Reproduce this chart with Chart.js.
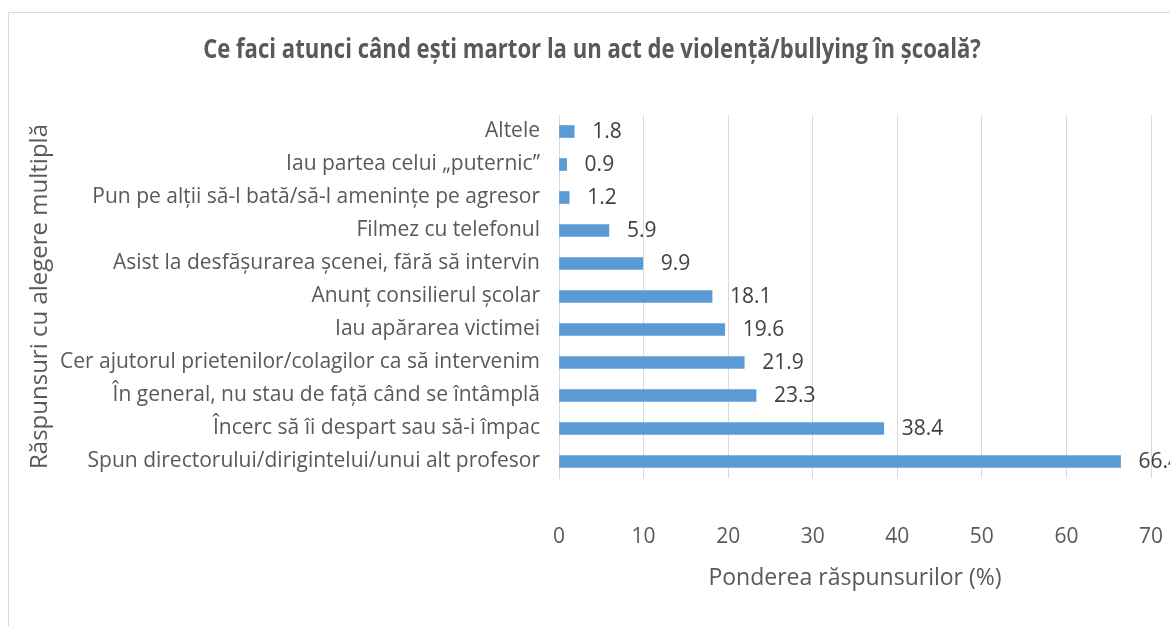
<!DOCTYPE html>
<html>
<head>
<meta charset="utf-8">
<script src="https://cdn.jsdelivr.net/npm/chart.js@4.4.1/dist/chart.umd.min.js"></script>
<style>
    html, body { margin: 0; padding: 0; background: #fff; overflow: hidden; }
    #cadru {
        position: absolute; left: 8px; top: 12px; width: 1170px; height: 620px;
        border-left: 1px solid #d9d9d9; border-top: 1px solid #d9d9d9;
    }
    #cadru canvas { position: absolute; left: 0; top: 0; }
</style>
</head>
<body>
<div id="cadru"><canvas id="grafic" width="1166" height="614"></canvas></div>
<script>
// ——— Date ——————————————————————————————————————
const titlu = "Ce faci atunci când ești martor la un act de violență/bullying în școală?";
const categorii = [
    "Altele",
    "Iau partea celui „puternic”",
    "Pun pe alții să-l bată/să-l amenințe pe agresor",
    "Filmez cu telefonul",
    "Asist la desfășurarea șcenei, fără să intervin",
    "Anunț consilierul școlar",
    "Iau apărarea victimei",
    "Cer ajutorul prietenilor/colagilor ca să intervenim",
    "În general, nu stau de față când se întâmplă",
    "Încerc să îi despart sau să-i împac",
    "Spun directorului/dirigintelui/unui alt profesor",
];
const ponderi = [1.8, 0.9, 1.2, 5.9, 9.9, 18.1, 19.6, 21.9, 23.3, 38.4, 66.4];
const ticksX = [0, 10, 20, 30, 40, 50, 60, 70];

const FONT = "'Open Sans', sans-serif";

// titlul, cu literă mai îngustă (ca în Excel)
const titluIngust = {
    id: "titluIngust",
    afterDraw(chart) {
        const { ctx } = chart;
        ctx.save();
        ctx.font = "bold 26px " + FONT;
        ctx.fillStyle = "#595959";
        ctx.textAlign = "center";
        ctx.textBaseline = "middle";
        ctx.translate(583, 38);
        ctx.scale(0.85, 1);
        ctx.fillText(titlu, 0, 0);
        ctx.restore();
    },
};

// etichete de date la capătul barelor
const eticheteDate = {
    id: "eticheteDate",
    afterDatasetsDraw(chart) {
        const { ctx } = chart;
        const meta = chart.getDatasetMeta(0);
        ctx.save();
        ctx.font = "21px " + FONT;
        ctx.fillStyle = "#404040";
        ctx.textAlign = "left";
        ctx.textBaseline = "middle";
        meta.data.forEach((bar, i) => {
            ctx.fillText(ponderi[i].toFixed(1), bar.x + 18, bar.y + 1);
        });
        ctx.restore();
    },
};

new Chart(document.getElementById("grafic"), {
    type: "bar",
    data: {
        labels: categorii,
        datasets: [{
            data: ponderi,
            backgroundColor: "#5b9bd5",
            borderColor: "#5b9bd5",
            barThickness: 12,
        }],
    },
    options: {
        indexAxis: "y",
        responsive: false,
        animation: false,
        layout: { padding: { top: 102, left: 0, right: 0, bottom: 0 } },
        plugins: {
            legend: { display: false },
            tooltip: { enabled: false },
            title: { display: false },
        },
        scales: {
            x: {
                min: 0,
                max: 70,
                afterBuildTicks: (s) => { s.ticks = ticksX.map((v) => ({ value: v })); },
                afterFit: (s) => { s.height = 149; },
                grid: { color: "#d9d9d9", drawTicks: true, tickLength: 46, tickColor: "rgba(0,0,0,0)" },
                border: { display: false },
                ticks: { color: "#595959", font: { family: FONT, size: 21 }, padding: 0 },
                title: {
                    display: true,
                    text: "Ponderea răspunsurilor (%)",
                    color: "#595959",
                    font: { family: FONT, size: 23 },
                    padding: { top: 0, bottom: 35 },
                },
            },
            y: {
                afterFit: (s) => { s.width = 550; },
                grid: { display: false, drawTicks: false },
                border: { display: true, color: "#d9d9d9" },
                ticks: { color: "#595959", font: { family: FONT, size: 21 }, padding: 19 },
                title: {
                    display: true,
                    text: "Răspunsuri cu alegere multiplă",
                    color: "#595959",
                    font: { family: FONT, size: 24 },
                    padding: { top: 17, bottom: 0 },
                },
            },
            // spațiu gol în dreapta zonei de desen
            dreapta: {
                type: "linear",
                position: "right",
                afterFit: (s) => { s.width = 24; },
                grid: { display: false, drawTicks: false },
                border: { display: false },
                ticks: { display: false },
            },
        },
    },
    plugins: [eticheteDate, titluIngust],
});
</script>
</body>
</html>
